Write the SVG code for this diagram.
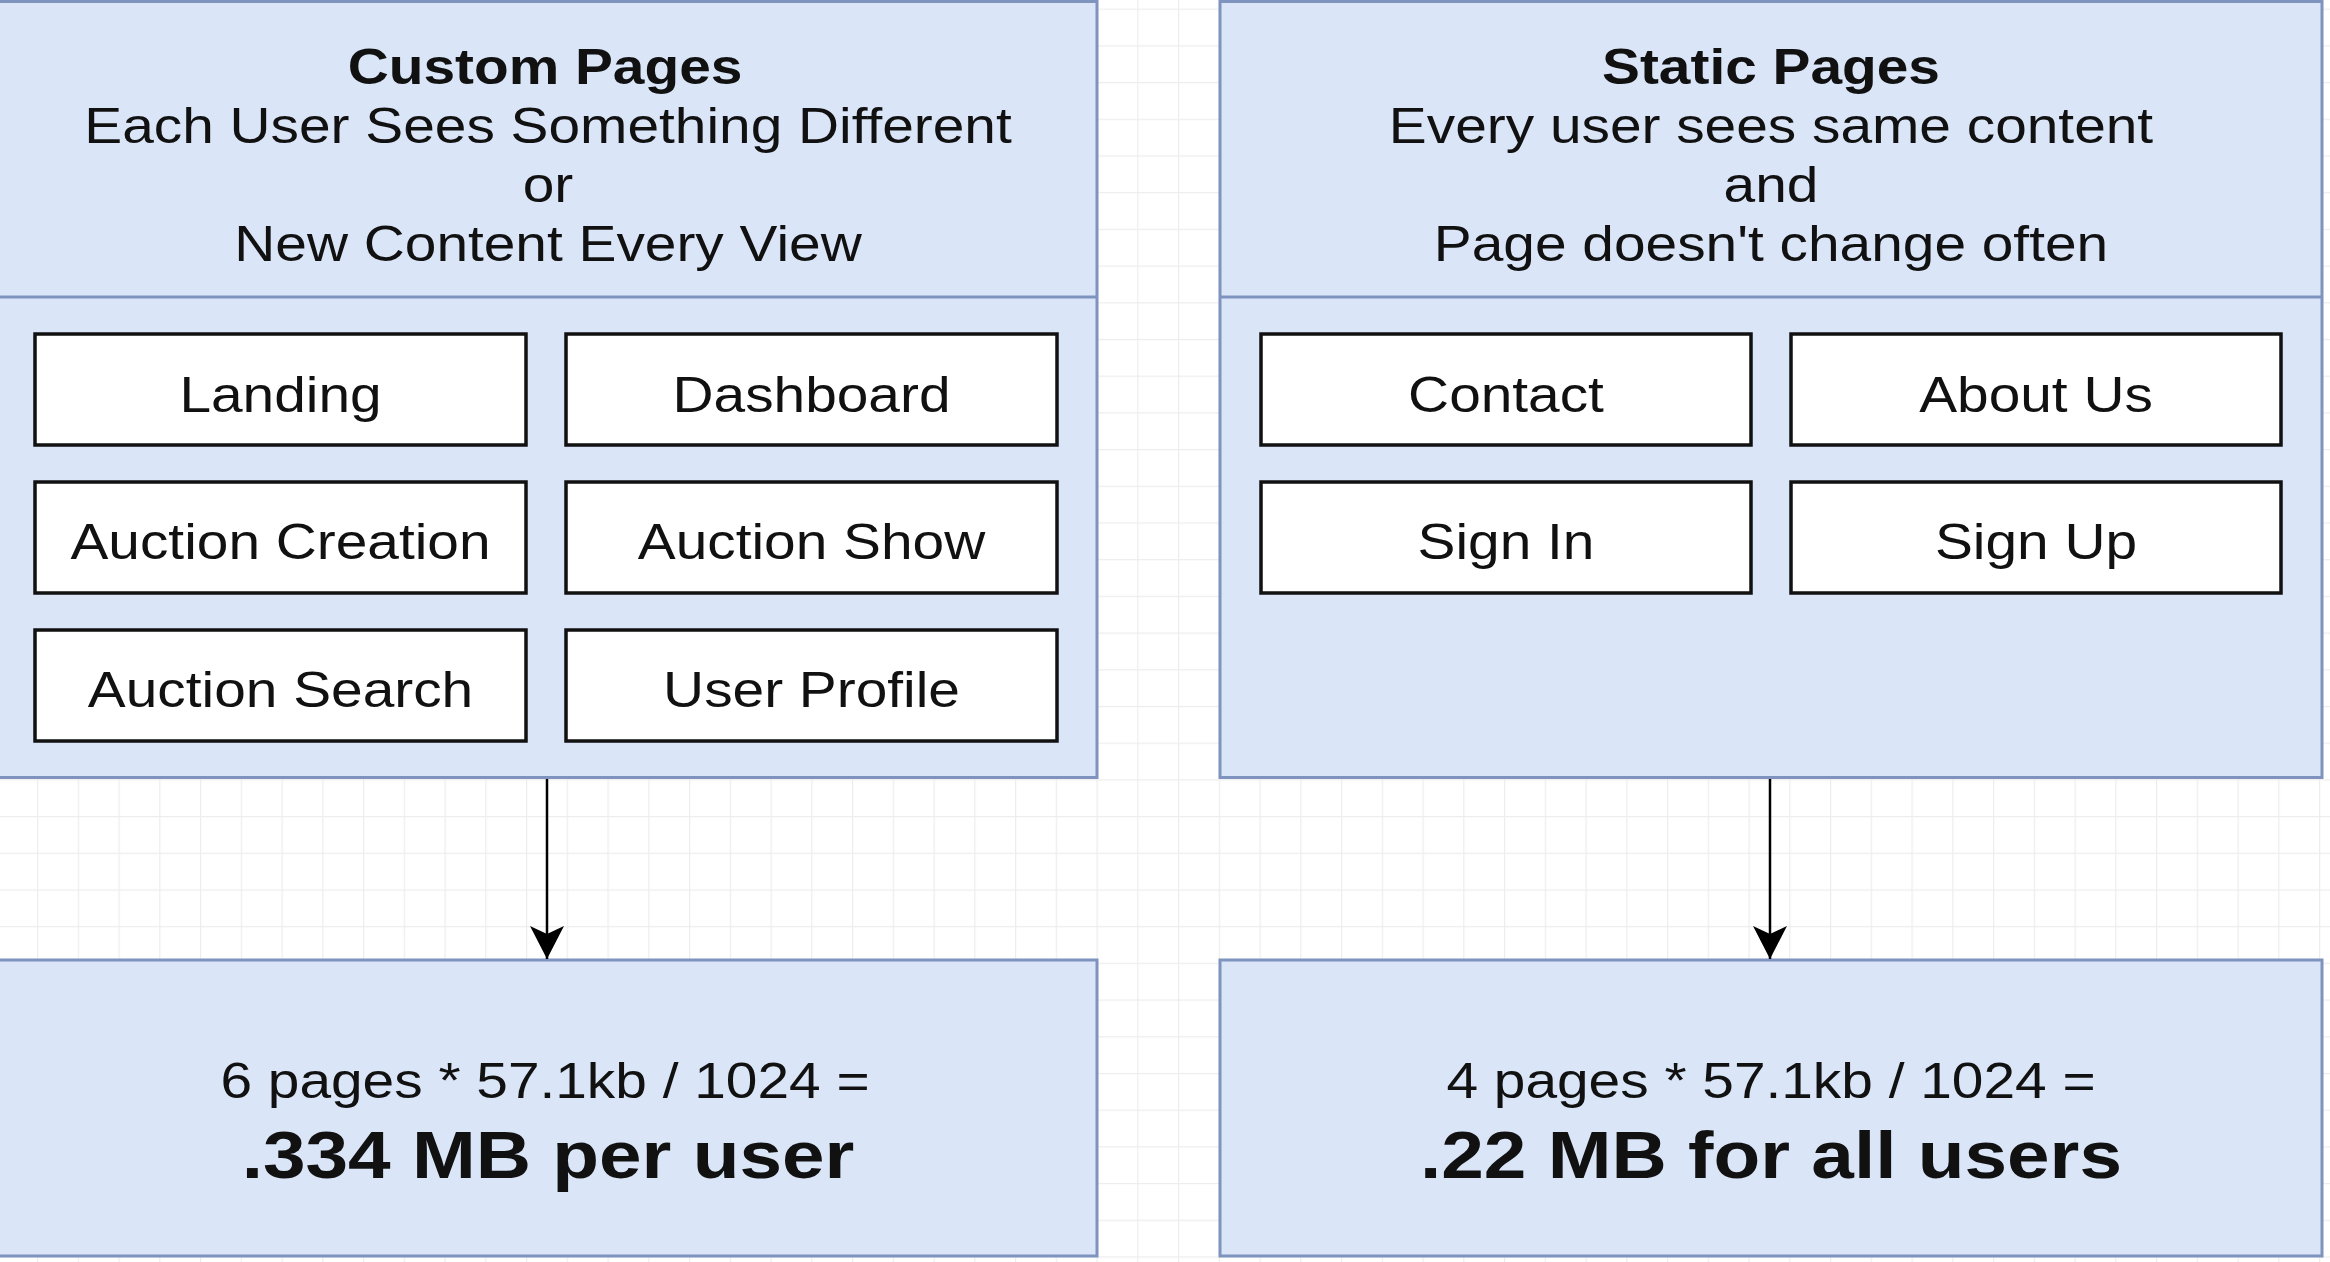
<svg xmlns="http://www.w3.org/2000/svg" width="2330" height="1262" viewBox="0 0 2330 1262">
  <defs>
    <pattern id="grid" patternUnits="userSpaceOnUse" x="37" y="8.6" width="40.75" height="36.7">
      <path d="M0.5 0 V36.7 M0 0.5 H40.75" fill="none" stroke="#ededed" stroke-width="1.5"/>
    </pattern>
    <marker id="arrow" markerUnits="userSpaceOnUse" markerWidth="40" markerHeight="40" viewBox="-36 -20 40 40" refX="0" refY="0" orient="auto">
      <path d="M0 0 L-33 -17 L-25 0 L-33 17 Z" fill="#000"/>
    </marker>
    <style>
      .panel { fill: #dae6f8; stroke: #7f93bf; stroke-width: 3; }
      .divider { stroke: #7f93bf; stroke-width: 3; }
      .page { fill: #ffffff; stroke: #111111; stroke-width: 3.5; }
      text { font-family: "Liberation Sans", Arial, Helvetica, sans-serif; fill: #111111; text-anchor: middle; }
      .t { font-size: 49px; }
      .b { font-size: 49px; font-weight: bold; }
      .big { font-size: 66px; font-weight: bold; }
      .edge { stroke: #000; stroke-width: 2.5; fill: none; }
    </style>
  </defs>

  <rect width="2330" height="1262" fill="#ffffff"/>
  <rect width="2330" height="1262" fill="url(#grid)"/>

  <!-- dynamic pages panel -->
  <g id="custom-pages">
    <rect class="panel" x="-2" y="1.5" width="1099" height="776"/>
    <line class="divider" x1="-2" y1="297" x2="1097" y2="297"/>
    <text class="b" transform="matrix(1.16,0,0,1,545,84)">Custom Pages</text>
    <text class="t" transform="matrix(1.16,0,0,1,548,143)">Each User Sees Something Different</text>
    <text class="t" transform="matrix(1.16,0,0,1,548,202)">or</text>
    <text class="t" transform="matrix(1.16,0,0,1,548,261)">New Content Every View</text>
  </g>
  <g id="landing">
    <rect class="page" x="35" y="334" width="491" height="111"/>
    <text class="t" transform="matrix(1.16,0,0,1,280.5,412)">Landing</text>
  </g>
  <g id="dashboard">
    <rect class="page" x="566" y="334" width="491" height="111"/>
    <text class="t" transform="matrix(1.16,0,0,1,811.5,412)">Dashboard</text>
  </g>
  <g id="auction-creation">
    <rect class="page" x="35" y="482" width="491" height="111"/>
    <text class="t" transform="matrix(1.16,0,0,1,280.5,559)">Auction Creation</text>
  </g>
  <g id="auction-show">
    <rect class="page" x="566" y="482" width="491" height="111"/>
    <text class="t" transform="matrix(1.16,0,0,1,811.5,559)">Auction Show</text>
  </g>
  <g id="auction-search">
    <rect class="page" x="35" y="630" width="491" height="111"/>
    <text class="t" transform="matrix(1.16,0,0,1,280.5,707)">Auction Search</text>
  </g>
  <g id="user-profile">
    <rect class="page" x="566" y="630" width="491" height="111"/>
    <text class="t" transform="matrix(1.16,0,0,1,811.5,707)">User Profile</text>
  </g>

  <!-- static pages panel -->
  <g id="static-pages">
    <rect class="panel" x="1220" y="1.5" width="1102" height="776"/>
    <line class="divider" x1="1220" y1="297" x2="2322" y2="297"/>
    <text class="b" transform="matrix(1.16,0,0,1,1771,84)">Static Pages</text>
    <text class="t" transform="matrix(1.16,0,0,1,1771,143)">Every user sees same content</text>
    <text class="t" transform="matrix(1.16,0,0,1,1771,202)">and</text>
    <text class="t" transform="matrix(1.16,0,0,1,1771,261)">Page doesn't change often</text>
  </g>
  <g id="contact">
    <rect class="page" x="1261" y="334" width="490" height="111"/>
    <text class="t" transform="matrix(1.16,0,0,1,1506,412)">Contact</text>
  </g>
  <g id="about-us">
    <rect class="page" x="1791" y="334" width="490" height="111"/>
    <text class="t" transform="matrix(1.16,0,0,1,2036,412)">About Us</text>
  </g>
  <g id="sign-in">
    <rect class="page" x="1261" y="482" width="490" height="111"/>
    <text class="t" transform="matrix(1.16,0,0,1,1506,559)">Sign In</text>
  </g>
  <g id="sign-up">
    <rect class="page" x="1791" y="482" width="490" height="111"/>
    <text class="t" transform="matrix(1.16,0,0,1,2036,559)">Sign Up</text>
  </g>

  <!-- size results -->
  <g id="custom-size">
    <rect class="panel" x="-2" y="960" width="1099" height="296"/>
    <text class="t" transform="matrix(1.16,0,0,1,545,1098)">6 pages * 57.1kb / 1024 =</text>
    <text class="big" transform="matrix(1.16,0,0,1,548,1178)">.334 MB per user</text>
  </g>
  <g id="static-size">
    <rect class="panel" x="1220" y="960" width="1102" height="296"/>
    <text class="t" transform="matrix(1.16,0,0,1,1771,1098)">4 pages * 57.1kb / 1024 =</text>
    <text class="big" transform="matrix(1.16,0,0,1,1771,1178)">.22 MB for all users</text>
  </g>

  <g id="connectors">
    <line class="edge" x1="547" y1="779" x2="547" y2="959" marker-end="url(#arrow)"/>
    <line class="edge" x1="1770" y1="779" x2="1770" y2="959" marker-end="url(#arrow)"/>
  </g>
</svg>
